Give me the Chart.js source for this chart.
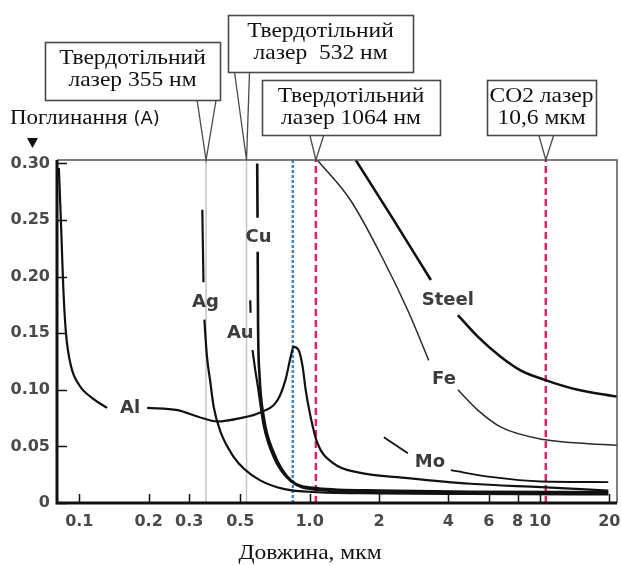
<!DOCTYPE html>
<html>
<head>
<meta charset="utf-8">
<script src="https://cdn.jsdelivr.net/npm/chart.js@4.4.1/dist/chart.umd.min.js"></script>
<style>
  html, body { margin: 0; padding: 0; background: #fff; }
  #wrap { width: 621px; height: 566px; }
</style>
</head>
<body>
<div id="wrap"><canvas id="absChart" width="621" height="566"></canvas></div>
<script>
// axis ticks
const xTicks = [0.1, 0.2, 0.3, 0.5, 1, 2, 4, 6, 8, 10, 20];
const yTicks = [0, 0.05, 0.10, 0.15, 0.20, 0.25, 0.30];

// curves: wavelength (мкм) -> absorption, null = gap where the label sits
const alX = [0.0815, 0.0835, 0.0852, 0.0875, 0.092, 0.100, 0.115, 0.132, 0.165, 0.197, 0.267, 0.33, 0.398, 0.50, 0.61, 0.726, 0.786, 0.827, 0.852, 0.896, 0.933, 0.961, 1.01, 1.08, 1.27, 1.62, 2.67, 5.0, 10.1, 19.8];
const alY = [0.296, 0.24, 0.19, 0.150, 0.121, 0.104, 0.092, 0.084, null, 0.084, 0.082, 0.076, 0.072, 0.075, 0.080, 0.091, 0.109, 0.129, 0.138, 0.135, 0.120, 0.100, 0.076, 0.053, 0.035, 0.027, 0.022, 0.017, 0.014, 0.011];

const agX = [0.342, 0.346, 0.347, 0.349, 0.358, 0.371, 0.383, 0.41, 0.467, 0.52, 0.61, 0.77, 1.08, 2.0, 5.0, 19.8];
const agY = [0.259, 0.195, null, 0.162, 0.13, 0.106, 0.085, 0.063, 0.041, 0.030, 0.020, 0.0125, 0.0095, 0.0085, 0.008, 0.0075];

const auX = [0.552, 0.554, 0.556, 0.565, 0.58, 0.595, 0.632, 0.70, 0.83, 1.08, 2.0, 5.0, 19.8];
const auY = [0.179, 0.168, null, 0.135, 0.118, 0.104, 0.068, 0.040, 0.019, 0.0115, 0.0095, 0.009, 0.0085];

const cuX = [0.592, 0.594, 0.5945, 0.595, 0.597, 0.605, 0.632, 0.70, 0.83, 1.08, 2.0, 5.0, 19.8];
const cuY = [0.300, 0.252, null, 0.222, 0.16, 0.115, 0.076, 0.044, 0.020, 0.013, 0.011, 0.010, 0.0095];

const steelX = [1.585, 2.3, 3.36, 3.9, 4.4, 5.37, 6.77, 8.27, 10.4, 14.6, 21.6];
const steelY = [0.303, 0.251, 0.197, null, 0.166, 0.147, 0.129, 0.117, 0.109, 0.100, 0.094];

const feX = [1.08, 1.51, 2.1, 2.67, 3.29, 3.8, 4.4, 5.37, 6.77, 10.4, 14.6, 21.6];
const feY = [0.303, 0.267, 0.214, 0.170, 0.126, null, 0.100, 0.082, 0.067, 0.056, 0.053, 0.051];

const moX = [2.1, 2.67, 3.3, 4.1, 6.12, 10.1, 19.8];
const moY = [0.058, 0.044, null, 0.029, 0.023, 0.019, 0.0185];

// curve names and where their labels sit (data coords)
const curveNames = ['Al', 'Ag', 'Au', 'Cu', 'Steel', 'Fe', 'Mo'];
const labelX = [0.166, 0.353, 0.50, 0.60, 3.98, 3.83, 3.33];
const labelY = [0.084, 0.177, 0.150, 0.235, 0.179, 0.109, 0.036];

// laser wavelengths (мкм)
const laserWl = [0.355, 0.532, 0.845, 1.064, 10.6];

const Y_MAX = 0.303;
const SERIF_STRETCH = 1.12; // serif text in the source is a bit wide

function pts(xs, ys) {
    return xs.map((x, i) => ({ x: x, y: ys[i] }));
}

function curve(xs, ys, width, color) {
    return {
        data: pts(xs, ys),
        borderColor: color || '#111',
        borderWidth: width,
        pointRadius: 0,
        fill: false,
        spanGaps: false,
        cubicInterpolationMode: 'monotone',
        order: 1
    };
}

function laserLine(wl, color, width, dash) {
    return {
        data: [{ x: wl, y: 0 }, { x: wl, y: Y_MAX }],
        borderColor: color,
        borderWidth: width,
        borderDash: dash,
        pointRadius: 0,
        fill: false,
        order: 10
    };
}

// draw serif text squeezed/stretched horizontally around its anchor
function wideText(ctx, text, px, py, align) {
    ctx.save();
    ctx.translate(px, py);
    ctx.scale(SERIF_STRETCH, 1);
    ctx.textAlign = align;
    ctx.fillText(text, 0, 0);
    ctx.restore();
}

// text boxes with pointers above the plot
const callouts = [
    { lines: ['Твердотільний', 'лазер 355 нм'], laser: 0, box: [45, 42, 175, 58], legs: [-9, 10] },
    { lines: ['Твердотільний', 'лазер  532 нм'], laser: 1, box: [228, 15, 185, 57], legs: [-12, 3] },
    { lines: ['Твердотільний', 'лазер 1064 нм'], laser: 3, box: [262, 80, 178, 55], legs: [-6, 8] },
    { lines: ['CO2 лазер', '10,6 мкм'], laser: 4, box: [487, 80, 109, 55], legs: [-7, 8] }
];

const decor = {
    id: 'decor',
    afterDatasetsDraw(chart) {
        const { ctx, chartArea: a, scales: { x, y } } = chart;
        ctx.save();

        // frame: light top/right, heavy axes
        ctx.strokeStyle = '#555';
        ctx.lineWidth = 1.5;
        ctx.beginPath();
        ctx.moveTo(a.left, a.top);
        ctx.lineTo(a.right, a.top);
        ctx.lineTo(a.right, a.bottom);
        ctx.stroke();

        ctx.strokeStyle = '#111';
        ctx.lineWidth = 3;
        ctx.beginPath();
        ctx.moveTo(a.left, a.top);
        ctx.lineTo(a.left, a.bottom);
        ctx.lineTo(a.right, a.bottom);
        ctx.stroke();

        // inward tick marks
        ctx.lineWidth = 1.5;
        xTicks.forEach(v => {
            const px = Math.round(x.getPixelForValue(v)) + 0.5;
            ctx.beginPath();
            ctx.moveTo(px, a.bottom);
            ctx.lineTo(px, a.bottom - 9);
            ctx.stroke();
        });
        yTicks.forEach(v => {
            const py = Math.round(y.getPixelForValue(v)) + 0.5;
            ctx.beginPath();
            ctx.moveTo(a.left, py);
            ctx.lineTo(a.left + 10, py);
            ctx.stroke();
        });

        // curve names
        ctx.fillStyle = '#3c3c3c';
        ctx.font = 'bold 18px "DejaVu Sans"';
        ctx.textAlign = 'center';
        ctx.textBaseline = 'middle';
        curveNames.forEach((n, i) => {
            ctx.fillText(n, x.getPixelForValue(labelX[i]), y.getPixelForValue(labelY[i]));
        });

        // callout boxes
        callouts.forEach(c => {
            const [bx, by, bw, bh] = c.box;
            const tipX = x.getPixelForValue(laserWl[c.laser]);
            ctx.strokeStyle = '#4a4a4a';
            ctx.lineWidth = 1.3;
            ctx.beginPath();
            ctx.moveTo(tipX + c.legs[0], by + bh);
            ctx.lineTo(tipX, a.top);
            ctx.lineTo(tipX + c.legs[1], by + bh);
            ctx.stroke();

            ctx.fillStyle = '#fff';
            ctx.fillRect(bx, by, bw, bh);
            ctx.lineWidth = 1.6;
            ctx.strokeRect(bx + 0.5, by + 0.5, bw, bh);

            ctx.fillStyle = '#111';
            ctx.font = '21px "Liberation Serif"';
            wideText(ctx, c.lines[0], bx + bw / 2, by + 16, 'center');
            wideText(ctx, c.lines[1], bx + bw / 2, by + 38, 'center');
        });

        // y axis title with arrow
        ctx.fillStyle = '#111';
        ctx.font = '20.5px "Liberation Serif"';
        wideText(ctx, 'Поглинання', 10, 119, 'left');
        const w = ctx.measureText('Поглинання ').width * SERIF_STRETCH;
        ctx.font = '18px "DejaVu Sans"';
        ctx.textAlign = 'left';
        ctx.fillText('(A)', 10 + w, 119);

        ctx.beginPath();
        ctx.moveTo(27, 138);
        ctx.lineTo(38, 138);
        ctx.lineTo(32.5, 148);
        ctx.closePath();
        ctx.fill();

        // x axis title
        ctx.font = '21px "Liberation Serif"';
        wideText(ctx, 'Довжина, мкм', 310, 553, 'center');

        ctx.restore();
    }
};

const tickFont = { family: 'DejaVu Sans', size: 16, weight: 'bold' };

new Chart(document.getElementById('absChart'), {
    type: 'line',
    data: {
        datasets: [
            curve(alX, alY, 2.2),
            curve(agX, agY, 2.2),
            curve(auX, auY, 2.2),
            curve(cuX, cuY, 2.6),
            curve(steelX, steelY, 2.6),
            curve(feX, feY, 1.5, '#2a2a2a'),
            curve(moX, moY, 1.8),
            laserLine(laserWl[0], '#c4c4c4', 1.5, []),
            laserLine(laserWl[1], '#c4c4c4', 1.5, []),
            laserLine(laserWl[2], '#3b86d8', 2.5, [3, 2]),
            laserLine(laserWl[3], '#e0245e', 2.5, [7, 4]),
            laserLine(laserWl[4], '#e0245e', 2.5, [7, 4])
        ]
    },
    options: {
        responsive: false,
        animation: false,
        devicePixelRatio: 1,
        layout: { padding: { top: 160, right: 4, left: 0, bottom: 0 } },
        plugins: {
            legend: { display: false },
            tooltip: { enabled: false }
        },
        scales: {
            x: {
                type: 'logarithmic',
                min: 0.08,
                max: 21.6,
                afterFit(s) {
                    s.height = 63;
                    s.paddingLeft = 0;
                    s.paddingRight = 0;
                },
                afterBuildTicks(s) { s.ticks = xTicks.map(v => ({ value: v })); },
                grid: { display: false, drawTicks: false },
                border: { display: false },
                ticks: {
                    autoSkip: false,
                    maxRotation: 0,
                    minRotation: 0,
                    padding: 9,
                    color: '#4a4a4a',
                    font: tickFont,
                    callback: v => (v === 1 ? '1.0' : String(v))
                }
            },
            y: {
                min: 0,
                max: Y_MAX,
                afterFit(s) {
                    s.width = 57;
                    s.paddingTop = 0;
                    s.paddingBottom = 0;
                },
                afterBuildTicks(s) { s.ticks = yTicks.map(v => ({ value: v })); },
                grid: { display: false, drawTicks: false },
                border: { display: false },
                ticks: {
                    padding: 7,
                    color: '#4a4a4a',
                    font: tickFont,
                    callback: v => (v === 0 ? '0' : v.toFixed(2))
                }
            }
        }
    },
    plugins: [decor]
});
</script>
</body>
</html>
